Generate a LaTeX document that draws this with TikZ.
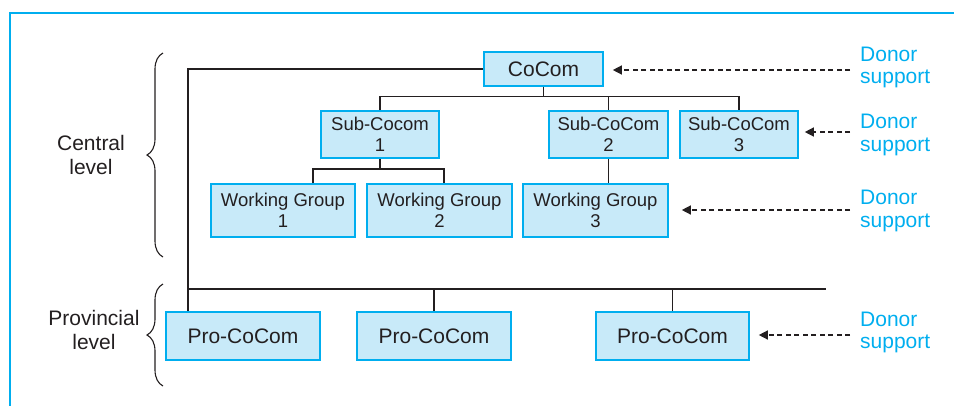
\documentclass[tikz,border=0pt]{standalone}
\usepackage{fontspec}
\setmainfont{Liberation Sans}
\usetikzlibrary{decorations.pathreplacing,arrows.meta}
\definecolor{cyanline}{RGB}{0,174,239}
\definecolor{boxfill}{RGB}{200,234,249}
\definecolor{ink}{RGB}{35,31,32}

\begin{document}
\begin{tikzpicture}[x=1pt,y=-1pt,
  box/.style={draw=cyanline, fill=boxfill, line width=1.6pt, inner sep=0pt,
    align=center, text=ink},
  bigbox/.style={box, font=\fontsize{21}{24}\selectfont},
  smallbox/.style={box, font=\fontsize{18.5}{21}\selectfont},
  link/.style={draw=ink, line width=1.3pt},
  donor/.style={text=cyanline, font=\fontsize{21}{22.5}\selectfont,
    align=left, inner sep=0pt, anchor=north west},
  levellabel/.style={text=ink, font=\fontsize{21}{24.5}\selectfont,
    align=center, inner sep=0pt, anchor=north},
  donorarrow/.style={draw=ink, line width=1.3pt, dash pattern=on 5pt off 3.5pt,
    -{Triangle[length=9pt,width=9pt]}},
  levelbrace/.style={draw=ink, line width=1.1pt, decorate,
    decoration={brace, amplitude=16pt}}
]
\useasboundingbox (0,0) rectangle (954,405);

% frame
\draw[cyanline, line width=2.5pt] (10,406) -- (10,13) -- (955,13);

% boxes
\node[bigbox, minimum width=119pt, minimum height=34pt] (cocom) at (543.5,69) {CoCom};
\node[smallbox, minimum width=118pt, minimum height=47pt] (sub1) at (380,134.5) {Sub-Cocom\\1};
\node[smallbox, minimum width=119pt, minimum height=47pt] (sub2) at (608.5,134.5) {Sub-CoCom\\2};
\node[smallbox, minimum width=118pt, minimum height=47pt] (sub3) at (739,134.5) {Sub-CoCom\\3};
\node[smallbox, minimum width=144pt, minimum height=53pt] (wg1) at (283,210.5) {Working Group\\1};
\node[smallbox, minimum width=145pt, minimum height=53pt] (wg2) at (439.5,210.5) {Working Group\\2};
\node[smallbox, minimum width=145pt, minimum height=53pt] (wg3) at (595.5,210.5) {Working Group\\3};
\node[bigbox, minimum width=154pt, minimum height=48pt] (pro1) at (243,336) {Pro-CoCom};
\node[bigbox, minimum width=154pt, minimum height=48pt] (pro2) at (434,336) {Pro-CoCom};
\node[bigbox, minimum width=153pt, minimum height=48pt] (pro3) at (672.5,336) {Pro-CoCom};

% tree connectors
\coordinate (cbar) at (543,96.5);
\coordinate (wbar) at (380,169);
\coordinate (provbar) at (188,289);
\coordinate (provend) at (826,289);

\draw[link] (cocom.south) -- (cocom.south |- cbar);
\draw[link] (sub1.north) |- (sub3.north |- cbar) -- (sub3.north);
\draw[link] (sub2.north) -- (sub2.north |- cbar);

\draw[link] (sub1.south) -- (sub1.south |- wbar);
\draw[link] ([xshift=30pt]wg1.north) |- (wbar) -| ([xshift=4.5pt]wg2.north);
\draw[link] (sub2.south) -- (sub2.south |- wg3.north);

\draw[link] (cocom.west) -| (pro1.north -| provbar);
\draw[link] (provbar) -- (provend);
\draw[link] (pro2.north) -- (pro2.north |- provbar);
\draw[link] (pro3.north) -- (pro3.north |- provbar);

% donor support
\coordinate (d1) at (850,70);
\coordinate (d2) at (850,132);
\coordinate (d3) at (850,210);
\coordinate (d4) at (850,335);
\draw[donorarrow, shorten >=9pt] (d1) -- (d1 -| cocom.east);
\draw[donorarrow, shorten >=6pt] (d2) -- (d2 -| sub3.east);
\draw[donorarrow, shorten >=13pt] (d3) -- (d3 -| wg3.east);
\draw[donorarrow, shorten >=9pt] (d4) -- (d4 -| pro3.east);

\node[donor] (don1) at (860,46.7) {Donor\\support};
\node[donor] (don2) at (860,114.3) {Donor\\support};
\node[donor] (don3) at (860,190) {Donor\\support};
\node[donor] (don4) at (860,311.7) {Donor\\support};

% levels
\node[levellabel] (central) at (91,135) {Central\\level};
\node[levellabel] (provincial) at (94,310) {Provincial\\level};
\draw[levelbrace] (163,257) -- (163,53);
\draw[levelbrace] (163,386) -- (163,284);
\end{tikzpicture}
\end{document}
